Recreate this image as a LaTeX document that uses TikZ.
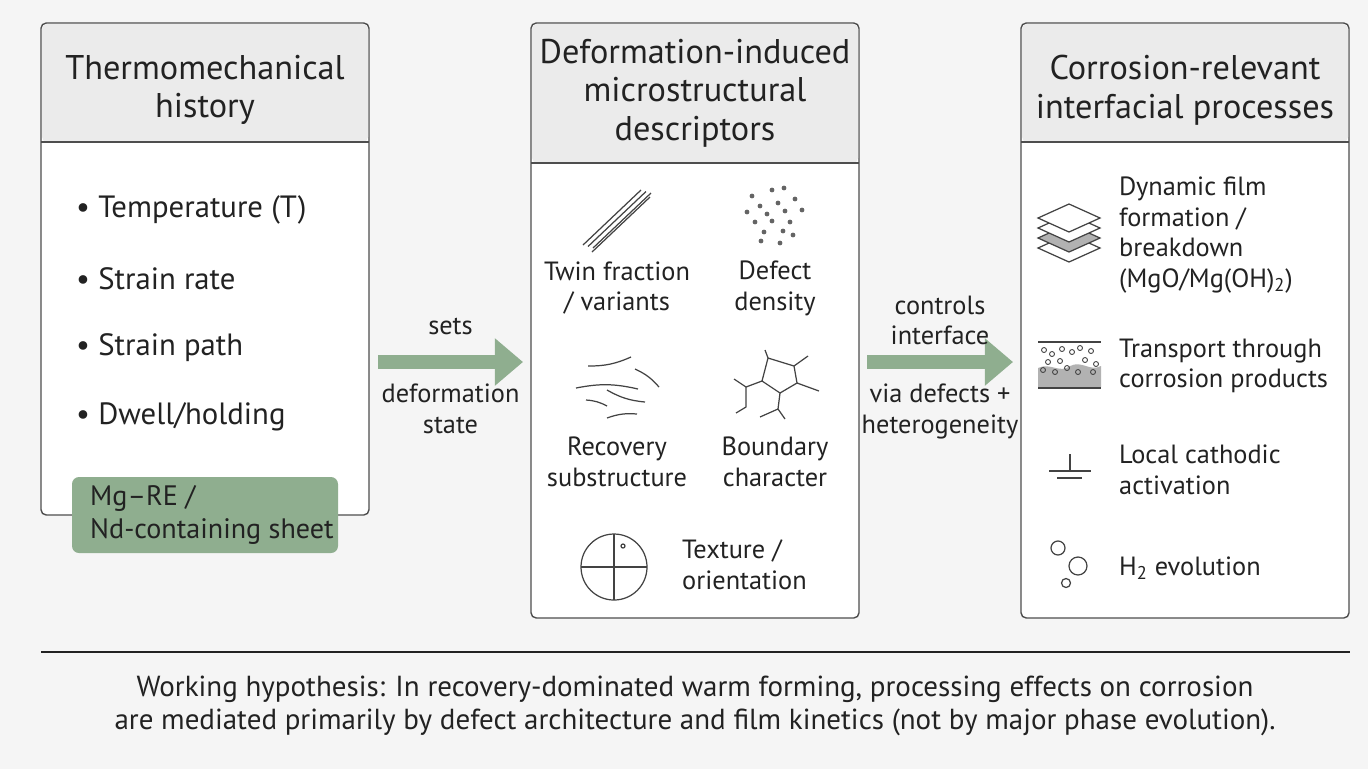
\documentclass[tikz,border=0pt]{standalone}
\usepackage{fontspec}
\setmainfont{PT Sans}
\usetikzlibrary{positioning,arrows.meta,calc}
\definecolor{sage}{HTML}{8FAE8F}
\definecolor{headgray}{HTML}{EBEBEB}
\definecolor{ink}{HTML}{222222}
\tikzset{
  panel/.style={draw=ink!80, line width=0.8pt, rounded corners=3pt, fill=white},
  headtext/.style={font=\fontsize{19.5}{22}\selectfont, align=center, text=ink},
  body/.style={font=\fontsize{17.5}{20}\selectfont, text=ink},
  small/.style={font=\fontsize{15}{17.5}\selectfont, align=center, text=ink},
  flow/.style={-{Triangle[length=16pt,width=26pt]}, line width=8pt, draw=sage},
  icon/.style={draw=ink!85, line width=0.7pt},
}
\begin{document}
\begin{tikzpicture}[x=0.02cm,y=-0.02cm]
  \useasboundingbox (0,0) rectangle (1368,769);
  \fill[white!96!black] (0,0) rectangle (1368,769);

  % Panels
  \draw[panel] (41,23) rectangle (369,515);
  \fill[headgray,rounded corners=3pt] (42,24) rectangle (368,142);
  \draw[ink!80,line width=0.8pt] (41,142) -- (369,142);
  \node[headtext] (hist) at (205,90) {Thermomechanical\\history};

  \draw[panel] (531,23) rectangle (859,618);
  \fill[headgray,rounded corners=3pt] (532,24) rectangle (858,163);
  \draw[ink!80,line width=0.8pt] (531,163) -- (859,163);
  \node[headtext] (desc) at (695,93) {Deformation-induced\\microstructural\\descriptors};

  \draw[panel] (1021,23) rectangle (1349,618);
  \fill[headgray,rounded corners=3pt] (1022,24) rectangle (1348,142);
  \draw[ink!80,line width=0.8pt] (1021,142) -- (1349,142);
  \node[headtext] (proc) at (1185,90) {Corrosion-relevant\\interfacial processes};

  % Left bullets
  \foreach \txt [count=\i] in {Temperature (T),Strain rate,Strain path,Dwell/holding}
    \node[body, anchor=west] (b\i) at (70,{210+(\i-1)*69}) {\textbullet\ \txt};
  \node[fill=sage, rounded corners=4pt, minimum width=266*0.02cm, minimum height=76*0.02cm,
        inner sep=0pt] (alloy) at (205,515) {};
  \node[font=\fontsize{16}{18.5}\selectfont, align=left, text=ink, anchor=west] (alloytxt)
        at (84,515) {Mg--RE /\\Nd-containing sheet};

  % Middle: twins
  \foreach \d in {0,5,10} \draw[icon] ($(583,245)+(\d,\d*0.3)$) -- ++(58,-55);
  \draw[icon] (592,252) -- ++(58,-55);
  \node[small] (twin) at (617,288) {Twin fraction\\/ variants};
  % defects
  \foreach \p in {(752,196),(772,190),(784,188),(760,206),(778,203),(795,199),(747,212),(767,214),(785,211),(802,210),(755,222),(772,221),(790,222),(764,232),(783,231),(793,235),(761,241),(780,243)}
    \fill[ink!70] \p circle (2.4);
  \node[small] (defect) at (775,288) {Defect\\density};
  % recovery arcs
  \draw[icon] (588,366) to[bend right=12] (631,357);
  \draw[icon] (576,388) to[bend left=12] (638,389);
  \draw[icon] (635,369) to[bend left=12] (659,387);
  \draw[icon] (607,390) to[bend right=12] (645,402);
  \draw[icon] (586,400) to[bend left=12] (607,406);
  \draw[icon] (607,418) to[bend left=12] (637,414);
  \node[small] (recov) at (617,462) {Recovery\\substructure};
  % boundaries
  \coordinate (p1) at (768,358); \coordinate (p2) at (794,366);
  \coordinate (p3) at (797,383); \coordinate (p4) at (780,393);
  \coordinate (p5) at (762,381);
  \draw[icon] (p1) -- (p2) -- (p3) -- (p4) -- (p5) -- cycle;
  \draw[icon] (p1) -- ++(-3,-8); \draw[icon] (p2) -- ++(14,-10);
  \draw[icon] (p3) -- ++(22,8); \draw[icon] (p4) -- ++(-2,16) coordinate (q1);
  \draw[icon] (q1) -- ++(-18,8); \draw[icon] (q1) -- ++(7,10);
  \draw[icon] (p5) -- ++(-16,6) coordinate (q2);
  \draw[icon] (q2) -- ++(-12,-8); \draw[icon] (q2) -- ++(0,20) -- ++(-10,6);
  \node[small] (bound) at (775,462) {Boundary\\character};
  % texture
  \draw[icon] (614,567) circle (33);
  \draw[icon] (581,567) -- (647,567); \draw[icon] (614,534) -- (614,600);
  \draw[icon] (623,546) circle (2);
  \node[small, anchor=west, align=left] (tex) at (676,565) {Texture /\\orientation};

  % Right: film layers
  \foreach \dy/\c in {30/white,20/black!30,10/white,0/white}
    \draw[icon, fill=\c] ($(1038,218)+(0,\dy)$) -- ++(31,-14) -- ++(31,14) -- ++(-31,14) -- cycle;
  \node[small, anchor=west, align=left] (film) at (1113,235) {Dynamic film\\formation /\\breakdown\\(MgO/Mg(OH)\textsubscript{2})};
  % transport
  \draw[icon] (1038,342) -- (1101,342);
  \fill[black!30] (1038,377) -- (1038,368) .. controls (1050,362) and (1060,374) .. (1070,366) .. controls (1082,360) and (1090,372) .. (1101,366) -- (1101,387) -- (1038,387) -- cycle;
  \draw[icon, line width=1.2pt] (1038,388) -- (1101,388);
  \foreach \p in {(1044,350),(1052,354),(1062,349),(1072,352),(1080,348),(1091,351),(1048,362),(1060,361),(1085,360),(1096,364),(1043,370),(1055,372),(1067,368),(1078,372),(1093,372)}
    \draw[icon, line width=0.5pt] \p circle (2.5);
  \node[small, anchor=west, align=left] (trans) at (1113,366) {Transport through\\corrosion products};
  % cathodic
  \draw[icon] (1070,454) -- (1070,471); \draw[icon] (1049,471) -- (1091,471);
  \draw[icon] (1057,478) -- (1082,478);
  \node[small, anchor=west, align=left] (cath) at (1113,470) {Local cathodic\\activation};
  % bubbles
  \draw[icon] (1058,548) circle (7); \draw[icon] (1078,566) circle (9);
  \draw[icon] (1066,583) circle (4.5);
  \node[small, anchor=west] (h2) at (1113,568) {H\textsubscript{2} evolution};

  % Arrows between panels
  \coordinate (a1) at (378,362); \coordinate (a2) at (523,362);
  \coordinate (a3) at (867,362); \coordinate (a4) at (1013,362);
  \draw[flow] (a1) -- (a2);
  \draw[flow] (a3) -- (a4);
  \node[small, above=12pt of $(a1)!0.5!(a2)$] (l1) {sets};
  \node[small, below=9pt of $(a1)!0.5!(a2)$] (l2) {deformation\\state};
  \node[small, above=6pt of $(a3)!0.5!(a4)$] (l3) {controls\\interface};
  \node[small, below=9pt of $(a3)!0.5!(a4)$] (l4) {via defects +\\heterogeneity};

  % Hypothesis
  \draw[ink, line width=0.8pt] (41,652) -- (1350,652);
  \node[font=\fontsize{16.5}{19}\selectfont, align=center, text=ink] (hyp) at (695,706)
    {Working hypothesis: In recovery-dominated warm forming, processing effects on corrosion\\are mediated primarily by defect architecture and film kinetics (not by major phase evolution).};
\end{tikzpicture}
\end{document}
